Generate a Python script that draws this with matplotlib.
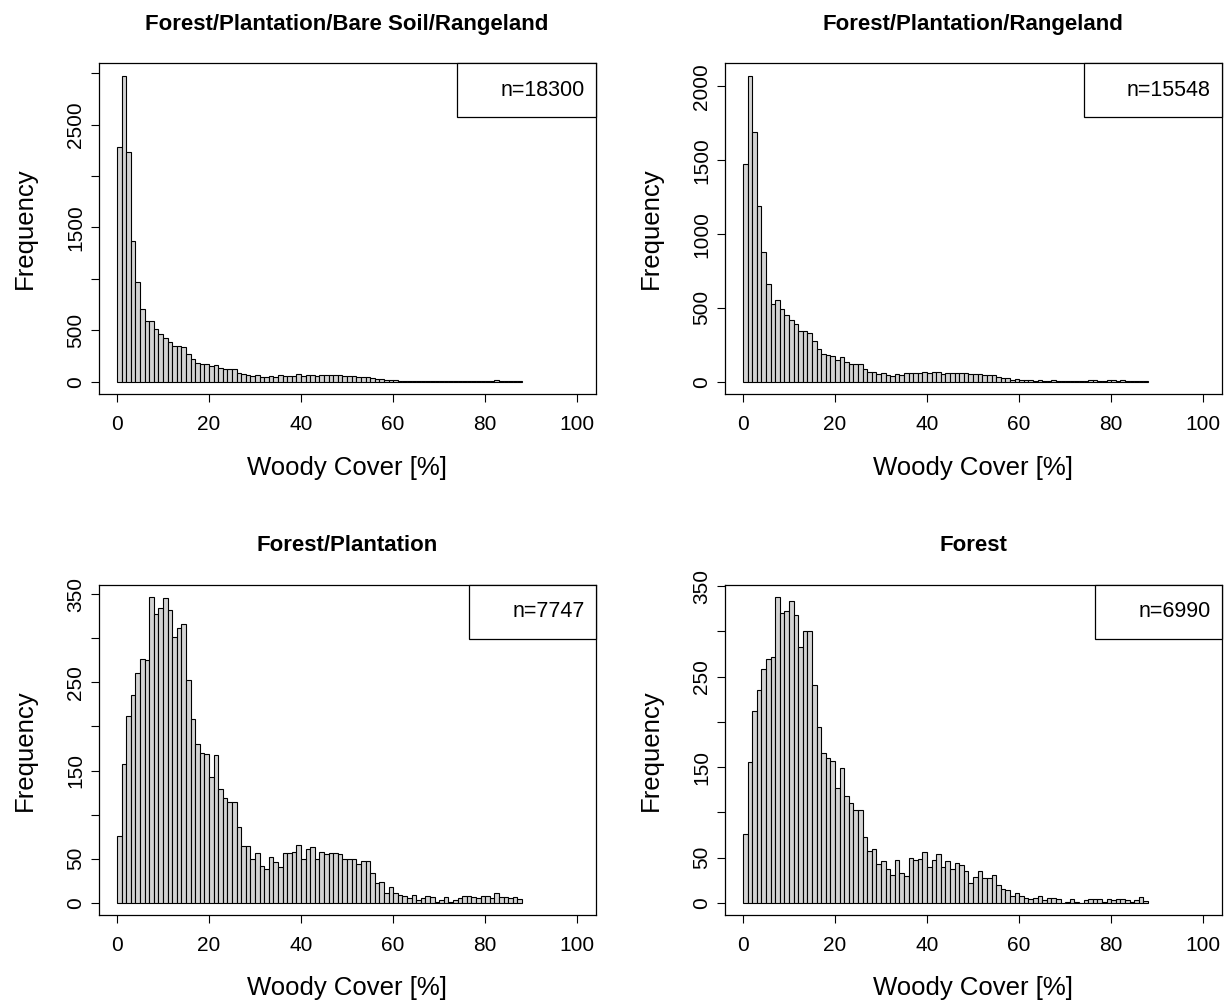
import matplotlib
matplotlib.use("Agg")
import matplotlib.pyplot as plt
import numpy as np
from matplotlib.patches import Rectangle

plt.rcParams['font.family'] = ['Liberation Sans', 'DejaVu Sans']

# ---------------- data ----------------
bin_edges = list(range(0, 89))  # 1 % wide bins, 0 .. 88

titles = ["Forest/Plantation/Bare Soil/Rangeland", "Forest/Plantation/Rangeland",
          "Forest/Plantation", "Forest"]
n_labels = ["n=18300", "n=15548", "n=7747", "n=6990"]
x_label = "Woody Cover [%]"
y_label = "Frequency"

counts_fpbr = [2281, 2976, 2232, 1365, 966, 706, 592, 592, 511, 463,
               424, 391, 343, 343, 339, 274, 219, 187, 171, 171,
               151, 167, 137, 125, 122, 121, 89, 71, 69, 59,
               61, 45, 43, 55, 48, 63, 60, 60, 60, 72,
               59, 67, 67, 52, 62, 62, 62, 61, 61, 53,
               53, 53, 47, 51, 50, 36, 27, 26, 13, 20,
               13, 11, 10, 7, 11, 5, 7, 10, 9, 3,
               5, 8, 3, 5, 7, 10, 10, 8, 7, 10,
               10, 7, 13, 9, 8, 7, 8, 6]

counts_fpr = [1473, 2074, 1692, 1190, 878, 664, 528, 555, 496, 449,
              417, 392, 347, 343, 331, 273, 221, 189, 178, 173,
              148, 171, 133, 121, 117, 117, 88, 65, 65, 53,
              58, 44, 40, 53, 46, 62, 58, 58, 58, 69,
              58, 65, 65, 51, 60, 60, 60, 60, 60, 51,
              51, 51, 45, 49, 48, 35, 25, 25, 12, 19,
              12, 10, 9, 6, 10, 4, 6, 9, 8, 2,
              4, 7, 2, 4, 6, 9, 9, 7, 6, 9,
              9, 6, 12, 8, 7, 6, 7, 5]

counts_fp = [76, 157, 212, 236, 261, 277, 276, 347, 328, 335,
             346, 332, 302, 312, 316, 253, 209, 180, 170, 169,
             143, 168, 129, 119, 114, 114, 86, 64, 64, 50,
             57, 42, 38, 52, 46, 41, 57, 57, 58, 65,
             50, 61, 63, 50, 58, 55, 57, 56, 55, 50,
             50, 50, 44, 47, 47, 34, 22, 24, 11, 18,
             11, 9, 8, 5, 9, 3, 5, 8, 7, 1,
             3, 6, 1, 3, 5, 8, 8, 6, 5, 8,
             8, 5, 11, 7, 6, 5, 6, 4]

counts_f = [76, 156, 212, 235, 258, 269, 272, 338, 320, 322,
            333, 318, 283, 300, 300, 241, 194, 165, 160, 157,
            127, 149, 118, 110, 102, 102, 73, 57, 59, 43,
            46, 37, 31, 47, 33, 30, 49, 47, 48, 56,
            40, 47, 54, 39, 46, 37, 44, 42, 35, 22,
            28, 35, 27, 27, 31, 20, 15, 14, 7, 11,
            7, 5, 4, 5, 8, 3, 5, 5, 4, 0,
            1, 4, 1, 0, 3, 4, 4, 4, 1, 4,
            3, 4, 4, 3, 1, 3, 6, 2]

x_ticks = [0, 20, 40, 60, 80, 100]
x_range = [0, 100]

yticks_fpbr = [0, 500, 1000, 1500, 2000, 2500, 3000]
ylabs_fpbr = ["0", "500", "", "1500", "", "2500", ""]
yticks_fpr = [0, 500, 1000, 1500, 2000]
ylabs_fpr = ["0", "500", "1000", "1500", "2000"]
yticks_small = [0, 50, 100, 150, 200, 250, 300, 350]
ylabs_small = ["0", "50", "", "150", "", "250", "", "350"]

panels = [
    (titles[0], n_labels[0], counts_fpbr, yticks_fpbr, ylabs_fpbr),
    (titles[1], n_labels[1], counts_fpr, yticks_fpr, ylabs_fpr),
    (titles[2], n_labels[2], counts_fp, yticks_small, ylabs_small),
    (titles[3], n_labels[3], counts_f, yticks_small, ylabs_small),
]

# ---------------- layout ----------------
W, H = 1231, 1000
fig = plt.figure(figsize=(W / 100, H / 100), dpi=100)
fig.patch.set_facecolor("white")
PT = 0.72  # points per pixel at 100 dpi

boxes_px = [  # left, top, right, bottom in pixels
    (98.5, 63.3, 595.7, 394.0),
    (724.5, 63.3, 1221.7, 394.0),
    (98.5, 584.7, 595.7, 915.0),
    (724.5, 584.7, 1221.7, 915.0),
]

renderer = fig.canvas.get_renderer()

for (title, nlab, counts, yt, yl), (l, t, r, b) in zip(panels, boxes_px):
    ax = fig.add_axes([l / W, 1 - b / H, (r - l) / W, (b - t) / H])
    widths = np.diff(bin_edges)
    ax.bar(bin_edges[:-1], counts, width=widths, align='edge',
           color='#D3D3D3', edgecolor='black', linewidth=0.8)
    span = x_range[1] - x_range[0]
    ax.set_xlim(x_range[0] - 0.04 * span, x_range[1] + 0.04 * span)
    m = max(counts)
    ax.set_ylim(-0.04 * m, 1.04 * m)
    ax.set_xticks(x_ticks, [str(v) for v in x_ticks])
    ax.set_yticks(yt, yl, rotation=90, va='center')
    ax.tick_params(axis='both', direction='out', length=5.8, width=0.8,
                   colors='black', labelsize=15)
    ax.tick_params(axis='x', pad=9)
    ax.tick_params(axis='y', pad=4)
    for s in ax.spines.values():
        s.set_linewidth(0.9)
        s.set_color('black')
    ax.set_title(title, fontsize=16, fontweight='bold', pad=24)
    ax.set_xlabel(x_label, fontsize=18.5)
    ax.xaxis.set_label_coords(0.5, -(455.5 - 394.0) / (b - t))
    ax.set_ylabel(y_label, fontsize=18.5)
    ax.yaxis.set_label_coords(-(98.5 - 37.0) / (r - l), 0.5)

    # legend-like box in the top-right corner with the sample size
    txt = ax.annotate(nlab, xy=(1, 1), xycoords='axes fraction',
                      xytext=(-11 * PT, -27 * PT), textcoords='offset points',
                      ha='right', va='center', fontsize=15.5, zorder=6)
    bb = txt.get_window_extent(renderer)
    axbb = ax.get_window_extent(renderer)
    box_left_px = bb.x0 - 43
    box_h_px = 54
    x0 = (box_left_px - axbb.x0) / axbb.width
    hh = box_h_px / axbb.height
    ax.add_patch(Rectangle((x0, 1 - hh), 1 - x0, hh, transform=ax.transAxes,
                           facecolor='white', edgecolor='black', linewidth=0.9,
                           zorder=5, clip_on=False))

fig.savefig("out.png", dpi=100, facecolor='white')
